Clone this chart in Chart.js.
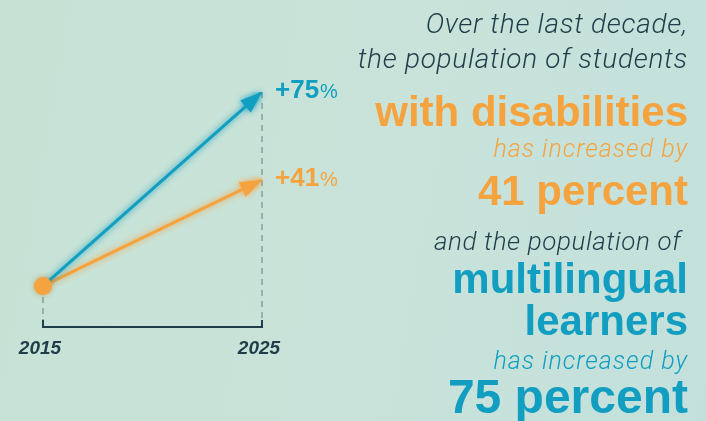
<!DOCTYPE html>
<html>
<head>
<meta charset="utf-8">
<script src="https://cdn.jsdelivr.net/npm/chart.js@4.4.0/dist/chart.umd.min.js"></script>
<style>
  html, body { margin: 0; padding: 0; }
  body {
    width: 706px; height: 421px; overflow: hidden; position: relative;
    background: linear-gradient(100deg, #c7e2d5 0%, #c9e3da 55%, #c3e0dc 100%);
    font-family: "Liberation Sans", Arial, sans-serif;
  }
  #wrap { position: absolute; left: 0; top: 0; width: 706px; height: 421px; }
  .t { position: absolute; right: 18px; white-space: pre; line-height: 1; }
  .lite { font-family: Roboto, "Liberation Sans", sans-serif; font-weight: 300; font-style: italic; letter-spacing: 0.7px; }
  .big { font-weight: 700; }
  .dark { color: #1f3e49; }
  .org { color: #f5a33f; }
  .blu { color: #119ec0; }
</style>
</head>
<body>
<div id="wrap"><canvas id="growthChart" width="706" height="421"></canvas></div>

<div class="t lite dark" style="top:10px;font-size:28px">Over the last decade,</div>
<div class="t lite dark" style="top:45px;font-size:28px">the population of students</div>
<div class="t big org" style="top:91px;font-size:42px">with disabilities</div>
<div class="t lite org" style="top:136px;font-size:25px;letter-spacing:1px">has increased by</div>
<div class="t big org" style="top:170px;font-size:42px">41 percent</div>
<div class="t lite dark" style="top:228px;font-size:26px;letter-spacing:0.6px">and the population of </div>
<div class="t big blu" style="top:258px;font-size:42px">multilingual</div>
<div class="t big blu" style="top:300px;font-size:42px">learners</div>
<div class="t lite blu" style="top:348px;font-size:25px;letter-spacing:1px">has increased by</div>
<div class="t big blu" style="top:373px;font-size:48px">75 percent</div>

<script>
// data
const years = [2015, 2025];
const tickLabels = ['2015', '2025'];
const multilingual = [0, 75];   // % growth, multilingual learners
const disabilities = [0, 41];   // % growth, students with disabilities
const growthLabels = ['+75', '+41'];

const BLUE = '#119ec0';
const ORANGE = '#f5a33f';
const DARK = '#1f3e49';

// glow around the lines
const glowPlugin = {
  id: 'glow',
  beforeDatasetDraw(chart, args) {
    const ctx = chart.ctx;
    ctx.save();
    ctx.shadowColor = args.meta.dataset.options.borderColor;
    ctx.shadowBlur = 6;
  },
  afterDatasetDraw(chart) {
    chart.ctx.restore();
  }
};

// axis bracket, dashed guides, arrow heads and labels
const decorPlugin = {
  id: 'decor',
  beforeDatasetsDraw(chart) {
    const { ctx, scales: { x, y } } = chart;
    const base = y.getPixelForValue(0);
    const bracketY = base + 41;

    ctx.save();
    ctx.strokeStyle = '#5f7f86';
    ctx.lineWidth = 1;
    ctx.setLineDash([6, 5]);
    ctx.beginPath();
    ctx.moveTo(x.getPixelForValue(years[0]), base);
    ctx.lineTo(x.getPixelForValue(years[0]), bracketY);
    ctx.moveTo(x.getPixelForValue(years[1]), y.getPixelForValue(multilingual[1]));
    ctx.lineTo(x.getPixelForValue(years[1]), bracketY);
    ctx.stroke();
    ctx.setLineDash([]);

    ctx.strokeStyle = DARK;
    ctx.lineWidth = 2;
    ctx.beginPath();
    ctx.moveTo(x.getPixelForValue(years[0]), bracketY - 7);
    ctx.lineTo(x.getPixelForValue(years[0]), bracketY);
    ctx.lineTo(x.getPixelForValue(years[1]), bracketY);
    ctx.lineTo(x.getPixelForValue(years[1]), bracketY - 7);
    ctx.stroke();

    ctx.fillStyle = DARK;
    ctx.font = 'italic bold 19px "Liberation Sans", Arial, sans-serif';
    ctx.textAlign = 'center';
    ctx.textBaseline = 'alphabetic';
    tickLabels.forEach((lab, i) => {
      ctx.fillText(lab, x.getPixelForValue(years[i]) - 3, bracketY + 27);
    });
    ctx.restore();
  },
  afterDatasetsDraw(chart) {
    const { ctx } = chart;
    chart.data.datasets.forEach((ds, i) => {
      const pts = chart.getDatasetMeta(i).data;
      const a = pts[pts.length - 2], b = pts[pts.length - 1];
      const ang = Math.atan2(b.y - a.y, b.x - a.x);
      const len = 22, half = 8;
      ctx.save();
      ctx.shadowColor = ds.borderColor;
      ctx.shadowBlur = 6;
      ctx.fillStyle = ds.borderColor;
      ctx.translate(b.x, b.y);
      ctx.rotate(ang);
      ctx.beginPath();
      ctx.moveTo(0, 0);
      ctx.lineTo(-len, -half);
      ctx.lineTo(-len, half);
      ctx.closePath();
      ctx.fill();
      ctx.restore();

      // growth label
      ctx.save();
      ctx.fillStyle = ds.borderColor;
      ctx.textBaseline = 'alphabetic';
      ctx.font = 'bold 26px "Liberation Sans", Arial, sans-serif';
      const lx = b.x + 13, ly = b.y + 6;
      ctx.fillText(growthLabels[i], lx, ly);
      const w = ctx.measureText(growthLabels[i]).width;
      ctx.font = '20px "Liberation Sans", Arial, sans-serif';
      ctx.fillText('%', lx + w + 1, ly);
      ctx.restore();
    });

    // start dot
    const p0 = chart.getDatasetMeta(1).data[0];
    ctx.save();
    ctx.shadowColor = 'rgba(200,120,20,0.6)';
    ctx.shadowBlur = 5;
    ctx.fillStyle = ORANGE;
    ctx.beginPath();
    ctx.arc(p0.x, p0.y, 9, 0, Math.PI * 2);
    ctx.fill();
    ctx.restore();
  }
};

new Chart(document.getElementById('growthChart'), {
  type: 'line',
  data: {
    datasets: [
      {
        label: 'Multilingual learners',
        data: years.map((yr, i) => ({ x: yr, y: multilingual[i] })),
        borderColor: BLUE,
        borderWidth: 3,
        pointRadius: 0
      },
      {
        label: 'Students with disabilities',
        data: years.map((yr, i) => ({ x: yr, y: disabilities[i] })),
        borderColor: ORANGE,
        borderWidth: 3,
        pointRadius: 0
      }
    ]
  },
  options: {
    responsive: false,
    animation: false,
    layout: { padding: { left: 43, right: 444, top: 92, bottom: 135 } },
    plugins: { legend: { display: false }, tooltip: { enabled: false } },
    scales: {
      x: { type: 'linear', min: 2015, max: 2025, display: false },
      y: { min: 0, max: 75, display: false }
    }
  },
  plugins: [glowPlugin, decorPlugin]
});
</script>
</body>
</html>
